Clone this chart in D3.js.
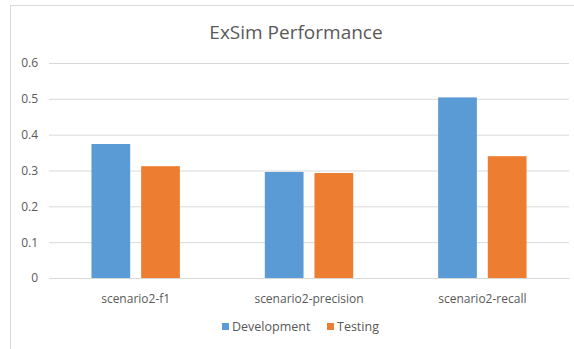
<!DOCTYPE html>
<html>
<head>
<meta charset="utf-8">
<script src="https://cdn.jsdelivr.net/npm/d3@7"></script>
<style>
  body { margin: 0; background: #fff; }
  text { font-family: 'Open Sans', sans-serif; fill: #595959; }
</style>
</head>
<body>
<div id="main"></div>
<script>
// data
const categories = ['scenario2-f1', 'scenario2-precision', 'scenario2-recall'];
const seriesNames = ['Development', 'Testing'];
const development = [0.374, 0.296, 0.504];
const testing = [0.312, 0.293, 0.340];
const yTicks = [0, 0.1, 0.2, 0.3, 0.4, 0.5, 0.6];

const svgWidth = 574;
const svgHeight = 349;
const plot = { l: 49, r: 569, t: 63, b: 278 };
const colors = { Development: '#5B9BD5', Testing: '#ED7D31' };

const svg = d3
  .select('#main')
  .append('svg')
  .attr('width', svgWidth)
  .attr('height', svgHeight);

// chart frame (right and bottom edges fall outside the picture)
svg
  .append('rect')
  .attr('x', 10.5)
  .attr('y', 5.5)
  .attr('width', 620)
  .attr('height', 400)
  .attr('fill', 'none')
  .attr('stroke', '#d9d9d9');

const x0 = d3
  .scaleBand()
  .domain(categories)
  .range([plot.l, plot.r])
  .paddingInner(0.49)
  .paddingOuter(0.245);

const x1 = d3
  .scaleBand()
  .domain(seriesNames)
  .range([0, x0.bandwidth()])
  .paddingInner(0.22);

const y = d3.scaleLinear().domain([0, 0.6]).range([plot.b, plot.t]);

// gridlines + y labels
const yAxis = d3
  .axisLeft(y)
  .tickValues(yTicks)
  .tickSize(-(plot.r - plot.l))
  .tickPadding(11)
  .tickFormat(d => (d === 0 ? '0' : d3.format('.1f')(d)));

const yg = svg
  .append('g')
  .attr('transform', `translate(${plot.l},0)`)
  .call(yAxis);
yg.select('.domain').remove();
yg.selectAll('line').attr('stroke', '#d9d9d9');
yg.selectAll('text')
  .style('font-size', '12px')
  .style('font-family', "'Open Sans', sans-serif")
  .attr('fill', '#595959');

// bars
const rows = categories.map((c, i) => ({
  cat: c,
  values: [
    { key: 'Development', value: development[i] },
    { key: 'Testing', value: testing[i] }
  ]
}));

const groups = svg
  .selectAll('.group')
  .data(rows)
  .enter()
  .append('g')
  .attr('class', 'group')
  .attr('transform', d => `translate(${x0(d.cat)},0)`);

groups
  .selectAll('rect')
  .data(d => d.values)
  .enter()
  .append('rect')
  .attr('x', d => x1(d.key))
  .attr('y', d => y(d.value))
  .attr('width', x1.bandwidth())
  .attr('height', d => y(0) - y(d.value))
  .attr('fill', d => colors[d.key]);

// category labels
const xAxis = d3.axisBottom(x0).tickSize(0).tickPadding(16);
const xg = svg
  .append('g')
  .attr('transform', `translate(0,${plot.b})`)
  .call(xAxis);
xg.select('.domain').attr('stroke', '#d9d9d9');
xg.selectAll('text')
  .style('font-size', '12px')
  .style('font-family', "'Open Sans', sans-serif")
  .attr('fill', '#595959');

// title
svg
  .append('text')
  .attr('x', 296)
  .attr('y', 39)
  .attr('text-anchor', 'middle')
  .style('font-size', '19px')
  .text('ExSim Performance');

// legend
const legendX = [222, 327];
const legend = svg
  .selectAll('.legend')
  .data(seriesNames)
  .enter()
  .append('g')
  .attr('class', 'legend')
  .attr('transform', (d, i) => `translate(${legendX[i]},323)`);

legend
  .append('rect')
  .attr('width', 7)
  .attr('height', 7)
  .attr('fill', d => colors[d]);

legend
  .append('text')
  .attr('x', 10)
  .attr('y', 8)
  .style('font-size', '12.5px')
  .text(d => d);
</script>
</body>
</html>
